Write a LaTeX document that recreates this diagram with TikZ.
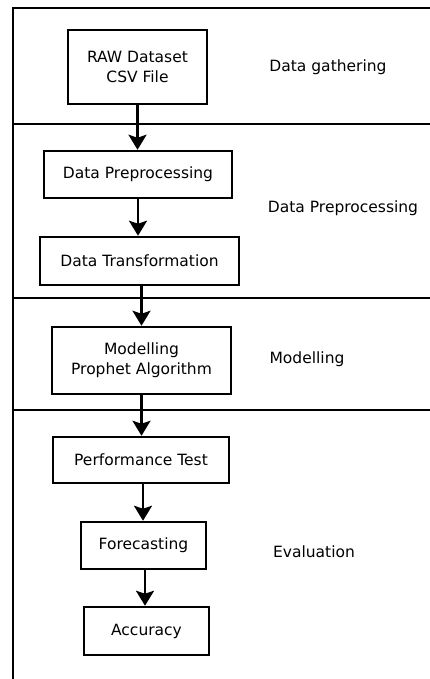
\documentclass[tikz,border=0pt]{standalone}
\usepackage{fontspec}
\setmainfont{DejaVu Sans}
\usetikzlibrary{arrows.meta}
\begin{document}
\begin{tikzpicture}[x=1pt,y=-1pt,
  box/.style={draw=black,line width=2.5pt,align=center,inner sep=0pt,font=\fontsize{15.5}{20}\selectfont},
  lbl/.style={font=\fontsize{15.5}{20}\selectfont,inner sep=0pt},
  panel/.style={draw=black,line width=2.5pt},
  arr/.style={line width=2.5pt,-{Stealth[width=18pt,length=15pt,inset=3pt]}}]
\useasboundingbox[fill=white] (0,0) rectangle (430,679);
\clip (0,0) rectangle (430,679);
% panels
\draw[panel] (13,8) rectangle (445,124);
\draw[panel] (13,124) rectangle (445,298);
\draw[panel] (13,298) rectangle (445,410);
\draw[panel] (13,410) -- (445,410);
\draw[panel] (13,410) -- (13,690);
% boxes
\node[box,minimum width=139pt,minimum height=74pt] (raw) at (137.5,67) {RAW Dataset\\CSV File};
\node[box,minimum width=188pt,minimum height=47pt] (dp) at (138,174.5) {Data Preprocessing};
\node[box,minimum width=199pt,minimum height=48pt] (dt) at (139.5,261) {Data Transformation};
\node[box,minimum width=179pt,minimum height=67pt] (mod) at (141.5,360.5) {Modelling\\Prophet Algorithm};
\node[box,minimum width=176pt,minimum height=46pt] (perf) at (141,460) {Performance Test};
\node[box,minimum width=125pt,minimum height=47pt] (fc) at (143.5,545.5) {Forecasting};
\node[box,minimum width=125pt,minimum height=48pt] (acc) at (146.5,631) {Accuracy};
% labels
\node[lbl] (l1) at (328,67) {Data gathering};
\node[lbl] (l2) at (343,208) {Data Preprocessing};
\node[lbl] (l3) at (307,359) {Modelling};
\node[lbl] (l4) at (314,552) {Evaluation};
% arrows
\draw[arr] (raw.south) -- (raw.south |- dp.north);
\draw[arr] (dp.south) -- (dp.south |- dt.north);
\draw[arr] (dt.south) ++(2,0) coordinate (c1) -- (c1 |- mod.north);
\draw[arr] (mod.south) -- (mod.south |- perf.north);
\draw[arr] (perf.south) ++(2,0) coordinate (c2) -- (c2 |- fc.north);
\draw[arr] (fc.south) ++(1.5,0) coordinate (c3) -- (c3 |- acc.north);
\end{tikzpicture}
\end{document}
